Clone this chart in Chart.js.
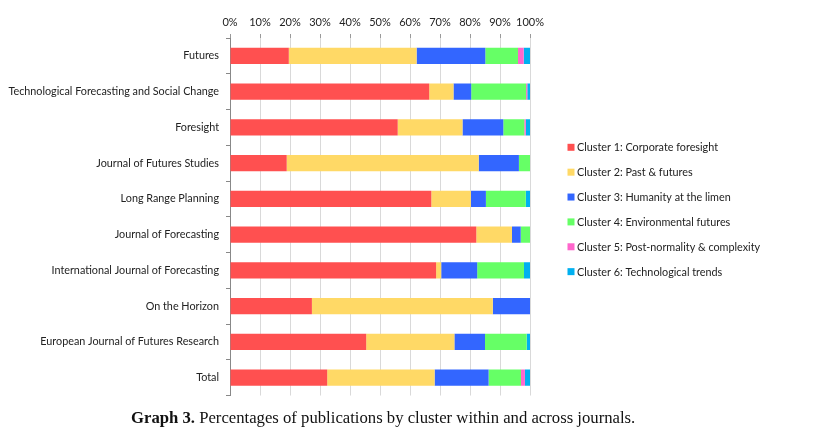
<!DOCTYPE html>
<html>
<head>
<meta charset="utf-8">
<script src="https://cdn.jsdelivr.net/npm/chart.js@4"></script>
<style>
body { margin: 0; background: #fff; }
#wrap { position: relative; width: 818px; height: 409px; }
#caption { font-family: "Liberation Serif", serif; font-size: 16.7px; color: #111; position: absolute; left: 131px; top: 408px; white-space: nowrap; }
</style>
</head>
<body>
<div id="wrap"><canvas id="myChart"></canvas></div>
<div id="caption"><b>Graph 3.</b> Percentages of publications by cluster within and across journals.</div>
<script>
var journals = ["Futures", "Technological Forecasting and Social Change", "Foresight", "Journal of Futures Studies",
    "Long Range Planning", "Journal of Forecasting", "International Journal of Forecasting", "On the Horizon",
    "European Journal of Futures Research", "Total"];

var cluster1 = [19.6, 66.4, 55.9, 18.9, 67.1, 82.1, 68.7, 27.3, 45.4, 32.4];
var cluster2 = [42.6, 8.1, 21.6, 64.0, 13.2, 11.9, 1.7, 60.3, 29.4, 35.8];
var cluster3 = [22.9, 5.9, 13.6, 13.4, 5.0, 2.9, 12.0, 12.4, 10.2, 18.0];
var cluster4 = [10.9, 18.3, 7.0, 3.7, 13.3, 3.1, 15.6, 0, 13.9, 10.8];
var cluster5 = [1.9, 0.4, 0.5, 0, 0, 0, 0, 0, 0, 1.3];
var cluster6 = [2.1, 0.9, 1.4, 0, 1.4, 0, 2.0, 0, 1.1, 1.7];

var clusterNames = ["Cluster 1: Corporate foresight", "Cluster 2: Past & futures", "Cluster 3: Humanity at the limen",
    "Cluster 4: Environmental futures", "Cluster 5: Post-normality & complexity", "Cluster 6: Technological trends"];
var colors = ["#FF5050", "#FFD966", "#3366FF", "#66FF66", "#FF66CC", "#00B0F0"];
var series = [cluster1, cluster2, cluster3, cluster4, cluster5, cluster6];

var fontFamily = "Lato, 'Liberation Sans', sans-serif";
var labelFont = { family: fontFamily, size: 10.8 };

// legend drawn by hand, Excel-like spacing to the right of the bars
var sideLegend = {
    id: "sideLegend",
    afterDraw: function (chart) {
        var c = chart.ctx;
        c.save();
        c.font = "10.8px " + fontFamily;
        c.textBaseline = "middle";
        chart.data.datasets.forEach(function (ds, i) {
            var y = 147.3 + i * 24.87;
            c.fillStyle = ds.backgroundColor;
            c.fillRect(567.5, y - 3.5, 7, 7);
            c.fillStyle = "#222";
            c.fillText(ds.label, 577, y + 0.5);
        });
        c.restore();
    }
};

var ctx = document.getElementById('myChart');

var myChart = new Chart(ctx, {
    type: "bar",
    data: {
        labels: journals,
        datasets: series.map(function (d, i) {
            return {
                label: clusterNames[i],
                data: d,
                backgroundColor: colors[i],
                borderWidth: 0,
                barPercentage: 1,
                categoryPercentage: 0.46
            };
        })
    },
    options: {
        indexAxis: "y",
        responsive: true,
        maintainAspectRatio: false,
        animation: false,
        layout: { padding: { top: 10, right: 288, bottom: 5, left: 0 } },
        scales: {
            x: {
                position: "top",
                stacked: true,
                min: 0,
                max: 100,
                ticks: {
                    stepSize: 10,
                    padding: 5,
                    autoSkip: false,
                    minRotation: 0,
                    maxRotation: 0,
                    color: "#222",
                    font: { family: fontFamily, size: 11 },
                    callback: function (v) { return v + "%"; }
                },
                grid: { color: "#d9d9d9", tickColor: "#999", tickLength: 4 },
                border: { display: false },
                afterFit: function (s) { s.height = 28; }
            },
            y: {
                stacked: true,
                ticks: { padding: 7, color: "#222", font: labelFont, autoSkip: false },
                grid: { drawOnChartArea: false, offset: true, tickLength: 4, tickColor: "#888" },
                border: { color: "#888" },
                afterFit: function (s) { s.width = 230; }
            }
        },
        plugins: {
            legend: { display: false },
            tooltip: { enabled: false }
        }
    },
    plugins: [sideLegend]
});
</script>
</body>
</html>
